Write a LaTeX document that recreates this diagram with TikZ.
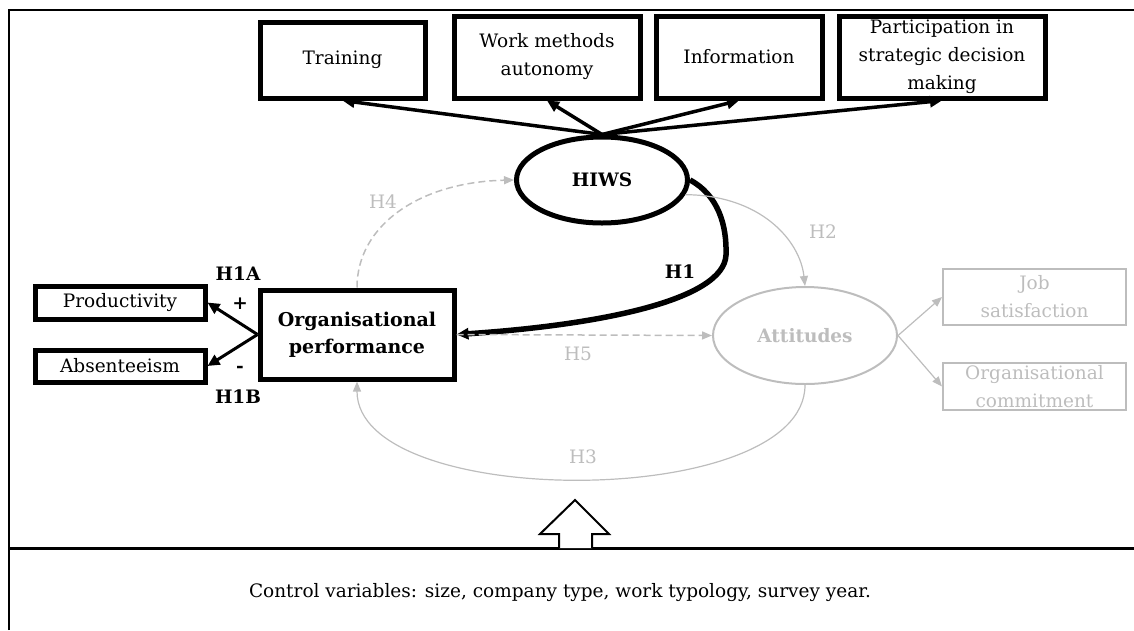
\documentclass[tikz,border=0pt]{standalone}
\usepackage{fontspec}
\setmainfont{DejaVu Serif}
\usetikzlibrary{shapes.geometric,arrows.meta}
\definecolor{faded}{gray}{0.74}

\begin{document}
\begin{tikzpicture}[x=1pt,y=-1pt,
  every node/.style={font=\fontsize{18.5}{28}\selectfont},
  practice/.style={draw,line width=5pt,align=center,inner sep=0pt},
  latent/.style={ellipse,draw,line width=5pt,inner sep=0pt,font=\fontsize{18.5}{22}\selectfont\bfseries},
  faint/.style={draw=faded,line width=2pt,align=center,inner sep=0pt,text=faded},
  hyp/.style={font=\fontsize{18.5}{22}\selectfont\bfseries},
  hypfaint/.style={text=faded},
  tip/.style={-{Triangle[length=12pt,width=11pt]}},
  fainttip/.style={-{Triangle[length=10pt,width=8pt]}},
  fadedash/.style={dash pattern=on 7pt off 4pt},
  ]
\useasboundingbox (0,0) rectangle (1134,630);
\draw[line width=2.5pt] (9,630) -- (9,10) -- (1134,10);
\draw[line width=3pt] (9,548) -- (1134,548);

% practices
\node[practice,minimum width=165pt,minimum height=76pt] (train) at (342.5,60) {Training};
\node[practice,minimum width=186pt,minimum height=82pt] (workm) at (547,57) {Work methods\\autonomy};
\node[practice,minimum width=166pt,minimum height=82pt] (inform) at (739,57) {Information};
\node[practice,minimum width=206pt,minimum height=82pt] (partic) at (942,57) {Participation in\\strategic decision\\making};
\node[latent,minimum width=171pt,minimum height=86pt] (hiws) at (602,180) {HIWS};

\draw[line width=3.5pt,tip] (hiws.north) -- (train.south);
\draw[line width=3.5pt,tip] (hiws.north) -- (workm.south);
\draw[line width=3.5pt,tip] (hiws.north) -- (inform.south);
\draw[line width=3.5pt,tip] (hiws.north) -- (partic.south);

% performance
\node[practice,font=\fontsize{19}{27}\selectfont\bfseries,minimum width=194pt,minimum height=89pt] (perf) at (357,334.5) {Organisational\\performance};
\node[practice,minimum width=170pt,minimum height=33pt] (prod) at (120,302.5) {Productivity};
\node[practice,minimum width=170pt,minimum height=32pt] (absent) at (120,366) {Absenteeism};
\draw[line width=3pt,tip] (perf.west) -- (prod.east);
\draw[line width=3pt,tip] (perf.west) -- (absent.east);
\node[hyp] (h1a) at (238,274) {H1A};
\node[hyp] (plus) at (240,304) {+};
\node[hyp] (minus) at (240,369) {-};
\node[hyp] (h1b) at (238,397) {H1B};

% attitudes
\node[latent,draw=faded,line width=2pt,text=faded,minimum width=184pt,minimum height=97pt] (att) at (805,335.5) {Attitudes};
\node[faint,minimum width=183pt,minimum height=56pt] (jobsat) at (1034.5,297) {Job\\satisfaction};
\node[faint,minimum width=183pt,minimum height=47pt] (commit) at (1034.5,386.5) {Organisational\\commitment};
\draw[faded,line width=1.2pt,fainttip] (att.east) -- (jobsat.west);
\draw[faded,line width=1.2pt,fainttip] (att.east) -- (commit.west);

% hypotheses
\draw[line width=5.5pt,tip] (hiws.east) .. controls (718,195) and (727,225) .. (726,255) .. controls (724,300) and (600,325) .. (perf.east);
\node[hyp] (h1) at (680,272) {H1};
\draw[faded,line width=1.2pt,fainttip] (hiws.-10) .. controls (760,195) and (800,240) .. (att.north);
\node[hypfaint] (h2) at (823,232) {H2};
\draw[faded,line width=1.2pt,fainttip] (att.south) .. controls (805,511) and (357,511) .. (perf.south);
\node[hypfaint] (h3) at (583,457) {H3};
\draw[faded,fadedash,line width=1.5pt,fainttip] (perf.north) .. controls (357,225) and (420,182) .. (hiws.west);
\node[hypfaint] (h4) at (383,202) {H4};
\draw[faded,fadedash,line width=1.5pt,fainttip] (perf.east) -- (att.west);
\node[hypfaint] (h5) at (578,354) {H5};

% controls
\draw[line width=2pt,fill=white] (559,548) -- (559,534) -- (540,534) -- (575,500) -- (609,534) -- (592,534) -- (592,548);
\node (controls) at (560,593) {Control variables: size, company type, work typology, survey year.};
\end{tikzpicture}
\end{document}
